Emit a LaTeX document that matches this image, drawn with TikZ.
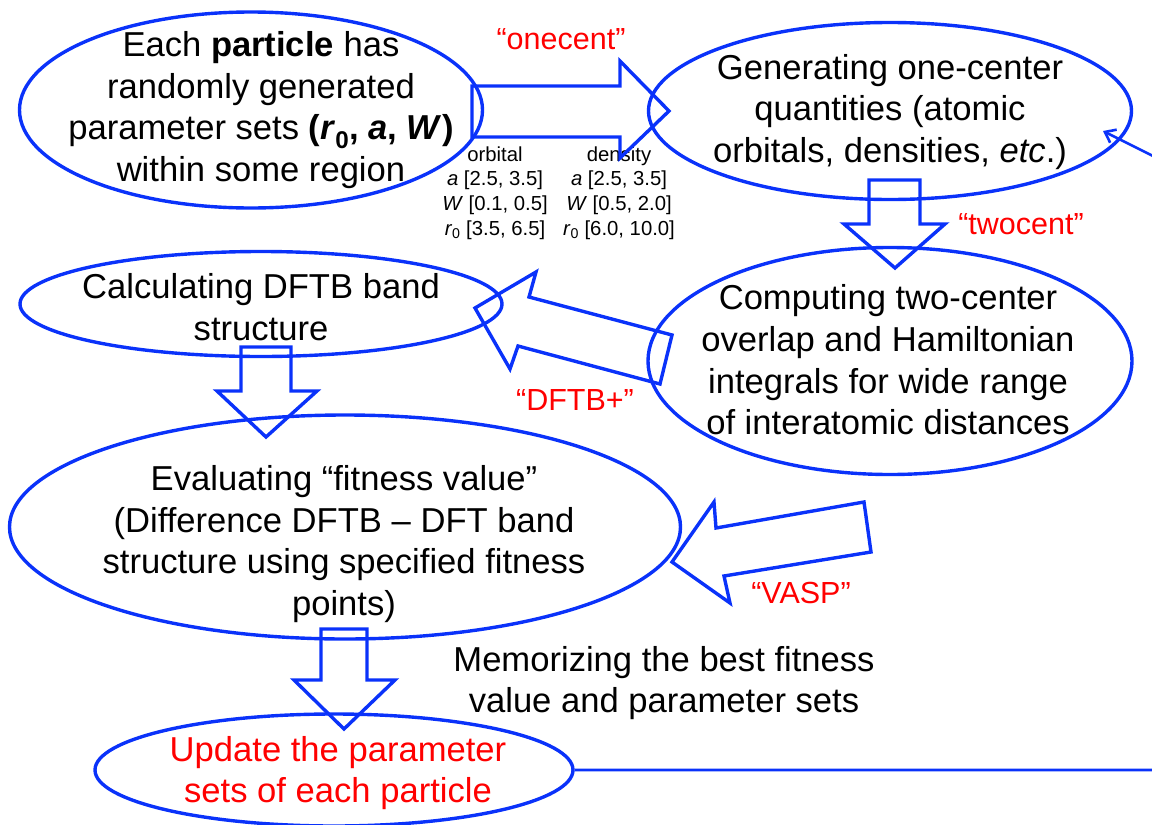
\documentclass[tikz,border=0pt]{standalone}
\usepackage{fontspec}
\setmainfont{Liberation Sans}
\usetikzlibrary{shapes.geometric,arrows.meta}
\definecolor{cblue}{RGB}{10,50,250}
\definecolor{cred}{RGB}{255,0,0}
\newcommand{\bigfnt}{\fontsize{34.6}{41.6}\selectfont}
\newcommand{\redfnt}{\fontsize{30.5}{36}\selectfont}
\newcommand{\smallfnt}{\fontsize{20.3}{24.8}\selectfont}
\begin{document}
\begin{tikzpicture}[x=1pt,y=-1pt,
  oval/.style={ellipse, draw=cblue, line width=3.4pt, inner sep=0pt},
  txt/.style={align=center, font=\bigfnt, inner sep=0pt},
  blockarrow/.style={draw=cblue, line width=3.4pt, line join=miter},
  lbl/.style={text=cred, font=\redfnt, inner sep=0pt},
  small/.style={font=\smallfnt, align=center, inner sep=0pt},
  feedback/.style={draw=cblue, line width=2.6pt, -{Straight Barb[angle=75:12pt]}}]
\useasboundingbox (0,0) rectangle (1152,825);

% ellipses
\node[oval, minimum width=463, minimum height=196] (A) at (251,110) {};
\node[oval, minimum width=483, minimum height=177] (B) at (890,111) {};
\node[oval, minimum width=482, minimum height=105] (C) at (261,304) {};
\node[oval, minimum width=484, minimum height=227] (D) at (890,361) {};
\node[oval, minimum width=671, minimum height=224] (E) at (345,527) {};
\node[oval, minimum width=478, minimum height=112] (F) at (334,770) {};

% texts
\node[txt] (At) at (261,110) {Each \textbf{particle} has\\randomly generated\\parameter sets \textbf{(\textit{r}\textsubscript{0}, \textit{a}, \textit{W})}\\within some region};
\node[txt] (Bt) at (890,112) {Generating one-center\\quantities (atomic\\orbitals, densities, \textit{etc}.)};
\node[txt] (Ct) at (261,307) {Calculating DFTB band\\structure};
\node[txt] (Dt) at (888,360) {Computing two-center\\overlap and Hamiltonian\\integrals for wide range\\of interatomic distances};
\node[txt] (Et) at (344,544) {Evaluating “fitness value”\\(Difference DFTB \textendash{} DFT band\\structure using specified fitness\\points)};
\node[txt, text=cred] (Ft) at (338,773) {Update the parameter\\sets of each particle};
\node[txt] (memo) at (664,683) {Memorizing the best fitness\\value and parameter sets};

% small parameter labels
\node[small] (orb) at (495,193) {orbital\\\textit{a} [2.5, 3.5]\\\textit{W} [0.1, 0.5]\\\textit{r}\textsubscript{0} [3.5, 6.5]};
\node[small] (den) at (619,193) {density\\\textit{a} [2.5, 3.5]\\\textit{W} [0.5, 2.0]\\\textit{r}\textsubscript{0} [6.0, 10.0]};

% red program labels
\node[lbl] (l1) at (561,39) {“onecent”};
\node[lbl] (l2) at (1021,224) {“twocent”};
\node[lbl] (l3) at (575,400) {“DFTB+”};
\node[lbl] (l4) at (801,593) {“VASP”};

% block arrows
\draw[blockarrow] (472,86) -- (620,86) -- (620,61) -- (669,111) -- (620,158) -- (620,137) -- (472,137) -- cycle;
\draw[blockarrow] (869,180) -- (920,180) -- (920,224) -- (945,224) -- (895,268) -- (844,224) -- (869,224) -- cycle;
\draw[blockarrow] (672,335) -- (529,297) -- (536,272) -- (475,308) -- (510,369) -- (518,346) -- (660,384) -- cycle;
\draw[blockarrow] (241,347) -- (291,347) -- (291,391) -- (317,391) -- (266,437) -- (217,391) -- (241,391) -- cycle;
\draw[blockarrow] (864,502) -- (716,528) -- (714,502) -- (672,562) -- (730,603) -- (724,576) -- (871,552) -- cycle;
\draw[blockarrow] (321,629) -- (367,629) -- (367,680) -- (395,680) -- (344,729) -- (294,680) -- (321,680) -- cycle;

% feedback loop
\coordinate (fb1) at (1175,775);
\coordinate (fb2) at (1175,167);
\coordinate (fbtip) at (1103,131);
\draw[feedback] (F.east) -- (F.east -| fb1) -- (fb2) -- (fbtip);
\end{tikzpicture}
\end{document}
